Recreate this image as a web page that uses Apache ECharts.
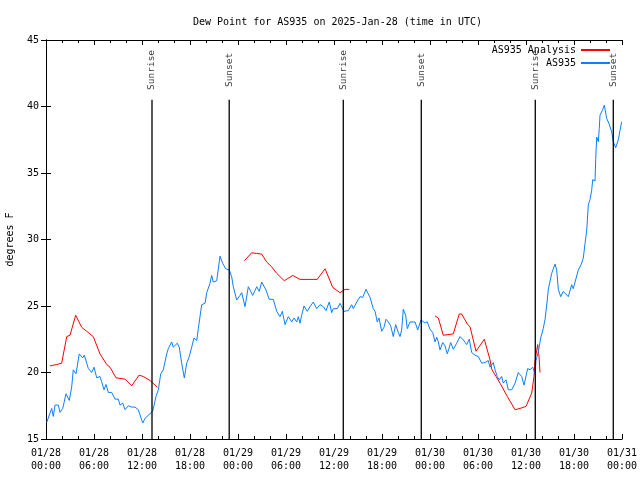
<!DOCTYPE html>
<html><head><meta charset="utf-8">
<script src="https://cdn.jsdelivr.net/npm/echarts@6/dist/echarts.min.js"></script>
<style>html,body{margin:0;padding:0;background:#fff}#c{width:640px;height:480px}</style>
</head><body><div id="c"></div>
<script>
// Hours since 2025-01-28 00:00 UTC
const stationHours = [0.09,0.71,0.91,1.13,1.54,1.75,2.09,2.5,2.91,3.21,3.41,3.75,4.16,4.59,4.79,5.29,5.71,6.0,6.34,6.75,6.96,7.25,7.5,7.79,8.21,8.63,9.04,9.25,9.59,9.88,10.29,10.71,11.13,11.54,11.75,12.09,12.38,13.0,13.34,13.75,14.04,14.34,14.66,15.09,15.29,15.71,15.91,16.41,16.66,16.96,17.29,17.59,17.91,18.21,18.5,18.84,19.04,19.46,19.88,20.09,20.5,20.71,20.91,21.34,21.75,22.09,22.46,22.91,23.21,23.41,23.84,24.25,24.46,24.88,25.29,25.84,26.34,26.66,26.96,27.5,27.91,28.41,28.84,29.25,29.54,29.88,30.29,30.71,31.0,31.34,31.54,31.75,31.96,32.25,32.66,33.0,33.41,33.84,34.25,34.66,35.0,35.41,35.71,35.91,36.41,36.75,37.25,37.79,38.21,38.41,38.84,39.25,39.59,40.0,40.5,40.91,41.13,41.41,41.63,41.96,42.25,42.5,42.79,43.09,43.41,43.71,44.04,44.25,44.46,44.66,44.96,45.16,45.5,46.13,46.46,46.88,47.29,47.66,48.0,48.34,48.63,48.84,49.04,49.25,49.59,49.88,50.16,50.59,50.91,51.34,51.75,52.16,52.59,52.91,53.21,53.63,54.04,54.46,54.88,55.29,55.5,55.91,56.13,56.41,56.66,56.96,57.16,57.5,57.79,58.21,58.63,59.04,59.46,59.75,60.0,60.21,60.5,60.84,61.13,61.25,61.54,61.84,62.16,62.38,62.66,62.79,63.21,63.63,63.84,64.04,64.34,64.66,65.29,65.71,65.91,66.13,66.54,66.88,67.16,67.38,67.59,67.79,68.0,68.21,68.34,68.63,68.71,68.84,69.04,69.16,69.25,69.54,69.79,70.09,70.38,70.71,70.91,71.21,71.54,71.75,71.96];
const stationValues = [16.25,17.3,16.7,17.55,17.55,17.0,17.3,18.4,17.9,18.9,20.2,19.9,21.4,21.1,21.3,20.3,20.0,20.4,19.6,19.7,19.3,18.7,19.1,18.5,18.5,18.0,18.0,17.55,17.7,17.2,17.5,17.4,17.4,17.2,17.1,16.2,16.55,16.9,17.1,18.2,18.7,19.9,20.2,21.4,21.8,22.3,21.9,22.2,21.9,20.7,19.6,20.7,21.2,21.9,22.6,22.4,23.3,25.1,25.2,26.0,26.7,27.3,26.8,26.9,28.75,28.2,27.8,27.7,27.2,26.45,25.45,25.8,26.0,24.95,26.45,25.8,26.45,26.1,26.8,26.2,25.5,25.5,24.6,24.2,24.6,23.6,24.2,23.8,24.1,23.8,24.2,23.7,24.3,25.0,24.6,24.95,25.3,24.8,25.1,24.95,24.65,25.3,24.5,24.8,24.8,25.2,24.6,24.65,25.1,24.8,25.3,25.7,25.65,26.25,25.65,24.8,24.6,23.8,24.1,23.1,23.4,24.0,23.8,23.5,22.7,23.6,23.0,22.7,23.2,24.75,24.3,23.3,23.8,23.8,23.2,23.95,23.75,23.8,23.25,23.0,22.3,22.65,22.3,21.7,22.25,22.0,21.4,22.25,21.75,22.2,22.7,22.45,22.1,22.5,21.5,21.3,21.2,20.7,20.75,20.9,20.4,20.75,20.2,19.7,19.45,19.7,19.2,19.45,18.7,18.7,19.2,20.0,19.7,19.05,19.05,20.3,20.2,20.4,19.9,20.9,21.55,22.6,23.3,24.0,25.45,26.25,27.45,28.15,27.7,26.25,25.7,26.1,25.7,26.6,26.3,26.8,27.7,28.1,28.6,29.7,30.7,32.6,33.0,33.7,34.5,34.4,36.0,37.7,37.35,38.35,39.35,39.7,40.1,39.1,38.7,38.1,37.35,36.9,37.5,38.2,38.85];

// null values mark gaps in the analysis line
const analysisHours = [0.5,1.34,1.96,2.59,3.0,3.71,4.46,5.09,5.91,6.75,7.59,8.0,8.75,9.88,10.71,11.63,12.16,13.0,13.91, 18,
  24.79,25.71,26.34,26.96,27.59,28.21,28.84,29.79,30.84,31.75,33.91,34.88,35.84,36.75,37.38,37.91, 43,
  48.63,49.04,49.66,50.91,51.66,51.96,52.71,53.0,53.75,54.79,55.5,55.71,56.25,56.75,57.66,58.63,59.25,60.0,60.71,61.0,61.13,61.46,61.63,61.75];
const analysisValues = [20.5,20.6,20.7,22.7,22.8,24.3,23.4,23.1,22.7,21.4,20.6,20.4,19.6,19.5,19.0,19.8,19.7,19.4,18.9, null,
  28.4,29.0,28.95,28.9,28.3,27.95,27.45,26.9,27.3,27.0,27.0,27.8,26.4,26.0,26.25,26.25, null,
  24.25,24.1,22.8,22.9,24.4,24.4,23.6,23.45,21.6,22.5,20.95,20.25,19.7,19.2,18.2,17.2,17.3,17.45,18.45,19.7,20.9,22.1,21.2,20.0];

const eventNames = ['Sunrise','Sunset','Sunrise','Sunset','Sunrise','Sunset'];
const eventHours = [13.25,22.9,37.16,46.91,61.16,70.91];

const yTicks = [15,20,25,30,35,40,45];
const startMs = Date.UTC(2025,0,28);
const FONT = 'DejaVu Sans Mono';

const pad = n => String(n).padStart(2,'0');
function fmtHour(h){
  const d = new Date(startMs + Math.round(h*3600000));
  return pad(d.getUTCMonth()+1)+'/'+pad(d.getUTCDate())+'\n'+pad(d.getUTCHours())+':'+pad(d.getUTCMinutes());
}

const lineTop = 40.5;   // where the event lines begin (below their labels)
const labelY = 42.75;   // center of the rotated event labels

const series = [
  {name:'AS935 Analysis', type:'line', showSymbol:false, symbol:'none', connectNulls:false,
   lineStyle:{color:'#ff0000', width:1}, itemStyle:{color:'#ff0000'},
   data: analysisHours.map((h,i)=>[h, analysisValues[i]]), z:3},
  {name:'AS935', type:'line', showSymbol:false, symbol:'none',
   lineStyle:{color:'#0a80ff', width:1}, itemStyle:{color:'#0a80ff'},
   data: stationHours.map((h,i)=>[h, stationValues[i]]), z:3}
];
eventHours.forEach((h,i)=>{
  series.push({type:'line', symbol:'none', silent:true, lineStyle:{color:'#000', width:1.3}, z:4,
    data:[[h, lineTop],[h, yTicks[0]]]});
});
series.push({type:'scatter', symbol:'circle', symbolSize:1, silent:true, z:5,
  itemStyle:{color:'rgba(0,0,0,0)'},
  data: eventHours.map((h,i)=>({value:[h,labelY], name:eventNames[i]})),
  label:{show:true, position:'inside', rotate:90, formatter:p=>p.name, color:'#000', fontFamily:FONT, fontSize:9.5}});

const chart = echarts.init(document.getElementById('c'), null, {renderer:'canvas'});
chart.setOption({
  animation:false,
  backgroundColor:'#fff',
  title:{text:'Dew Point for AS935 on 2025-Jan-28 (time in UTC)', left:188, top:12,
    textStyle:{fontFamily:FONT, fontSize:10, fontWeight:'normal', color:'#000'}},
  legend:{data:[{name:'AS935 Analysis', icon:'rect'},{name:'AS935', icon:'rect'}], orient:'vertical', right:25, top:40, align:'right',
    itemWidth:29, itemHeight:2, itemGap:3,
    textStyle:{fontFamily:FONT, fontSize:10, color:'#000'}},
  grid:{left:46, right:18, top:40, bottom:41, outerBoundsMode:'none', containLabel:false},
  xAxis:[
    {type:'value', min:0, max:72, interval:6, position:'bottom',
     axisLine:{lineStyle:{color:'#000', width:1}},
     axisTick:{inside:true, length:5, lineStyle:{color:'#000'}},
     minorTick:{show:true, splitNumber:3, length:3, lineStyle:{color:'#000'}},
     splitLine:{show:false},
     axisLabel:{formatter:fmtHour, fontFamily:FONT, fontSize:10, color:'#000', margin:8, lineHeight:13}},
    {type:'value', min:0, max:72, interval:6, position:'top',
     axisLine:{lineStyle:{color:'#000', width:1}},
     axisTick:{inside:true, length:5, lineStyle:{color:'#000'}},
     minorTick:{show:true, splitNumber:3, length:3, lineStyle:{color:'#000'}},
     splitLine:{show:false}, axisLabel:{show:false}}
  ],
  yAxis:[
    {type:'value', min:15, max:45, interval:5, position:'left',
     name:'degrees F', nameLocation:'middle', nameGap:31, nameRotate:90,
     nameTextStyle:{fontFamily:FONT, fontSize:10, color:'#000'},
     axisLine:{show:true, lineStyle:{color:'#000', width:1}},
     axisTick:{show:true, inside:true, length:5, lineStyle:{color:'#000'}},
     splitLine:{show:false},
     axisLabel:{fontFamily:FONT, fontSize:10, color:'#000', margin:7}},
    {type:'value', min:15, max:45, interval:5, position:'right',
     axisLine:{show:true, lineStyle:{color:'#000', width:1}},
     axisTick:{show:true, inside:true, length:5, lineStyle:{color:'#000'}},
     splitLine:{show:false}, axisLabel:{show:false}}
  ],
  series: series
});
</script></body></html>
